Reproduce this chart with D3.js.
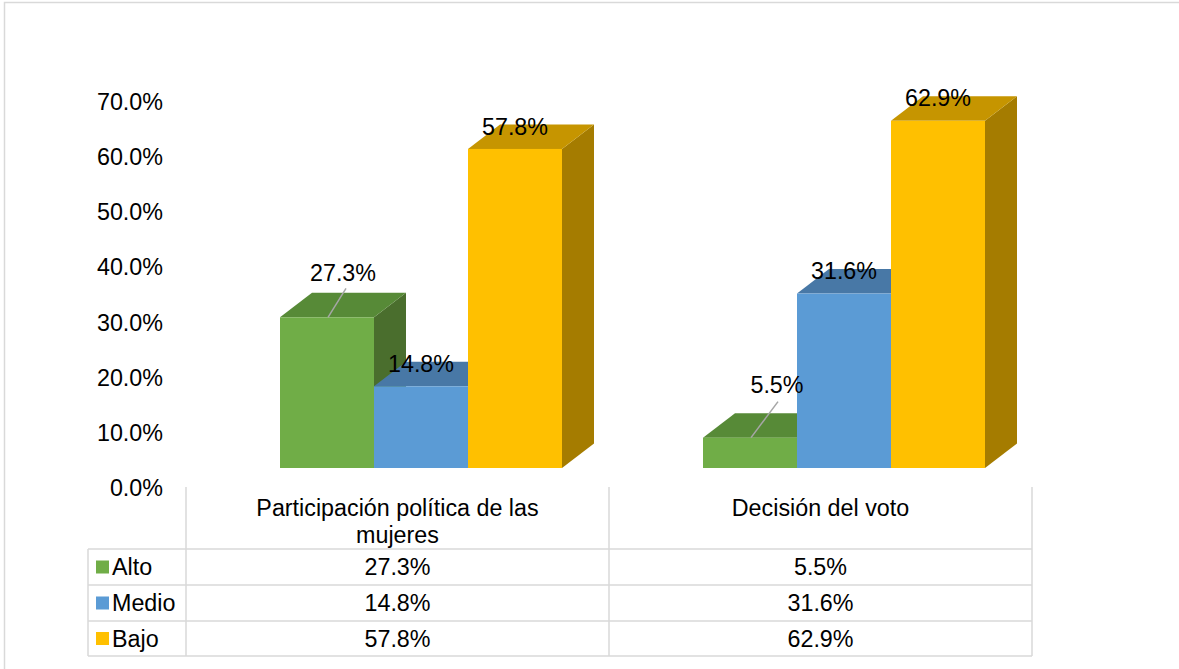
<!DOCTYPE html>
<html>
<head>
<meta charset="utf-8">
<script src="https://cdn.jsdelivr.net/npm/d3@7"></script>
<style>
body { margin: 0; background: #fff; }
text { font-family: "Liberation Sans", Arial, sans-serif; fill: #000; }
</style>
</head>
<body>
<svg id="chart" width="1179" height="669"></svg>
<script>
// data
var categories = ['Participación política de las mujeres', 'Decisión del voto'];
var categoryLines = [['Participación política de las', 'mujeres'], ['Decisión del voto']];
var seriesNames = ['Alto', 'Medio', 'Bajo'];
var alto = [27.3, 5.5];
var medio = [14.8, 31.6];
var bajo = [57.8, 62.9];
var yTicks = [0, 10, 20, 30, 40, 50, 60, 70];

var seriesValues = [alto, medio, bajo];
var front = ['#70AD47', '#5B9BD5', '#FFC000'];
var topC = ['#578A37', '#4878A6', '#C69500'];
var sideC = ['#4A6E2D', '#3F6A94', '#A57C00'];

var svg = d3.select('#chart');
var fmt = d => d.toFixed(1) + '%';

// outer frame
svg.append('rect').attr('x', 4.5).attr('y', 2.5).attr('width', 1200).attr('height', 700)
    .attr('fill', 'none').attr('stroke', '#d9d9d9').attr('stroke-width', 1.5);

var tableLeft = 88, plotLeft = 186, plotRight = 1032;
var depthX = 32, depthY = -24.5;

var x = d3.scaleBand().domain(categories).range([plotLeft, plotRight]);
var xs = d3.scaleBand().domain(seriesNames)
    .range([x.bandwidth() * 2 / 9, x.bandwidth() * 8 / 9]);
var y = d3.scaleLinear().domain([0, 70]).range([468, 81.6]);

// y axis labels
svg.append('g').selectAll('text').data(yTicks).enter().append('text')
    .attr('x', 163).attr('y', d => y(d) + 20).attr('dy', '0.35em')
    .attr('text-anchor', 'end').style('font-size', '23.3px')
    .text(d => d.toFixed(1) + '%');

// bars (left to right so the next front hides the side)
var bars = [];
categories.forEach(function(c, ci) {
    seriesNames.forEach(function(s, si) {
        bars.push({cat: c, ci: ci, s: s, si: si, v: seriesValues[si][ci]});
    });
});

var g = svg.append('g');
bars.forEach(function(d) {
    var x0 = x(d.cat) + xs(d.s), x1 = x0 + xs.bandwidth();
    var y0 = y(0), y1 = y(d.v);
    // side
    g.append('path')
        .attr('d', `M${x1},${y1}L${x1 + depthX},${y1 + depthY}L${x1 + depthX},${y0 + depthY}L${x1},${y0}Z`)
        .attr('fill', sideC[d.si]);
    // top
    g.append('path')
        .attr('d', `M${x0},${y1}L${x0 + depthX},${y1 + depthY}L${x1 + depthX},${y1 + depthY}L${x1},${y1}Z`)
        .attr('fill', topC[d.si]);
    // front
    g.append('rect').attr('x', x0).attr('y', y1)
        .attr('width', x1 - x0).attr('height', y0 - y1)
        .attr('fill', front[d.si]);
});

// data labels
var labels = svg.append('g');
bars.forEach(function(d) {
    var cx = x(d.cat) + xs(d.s) + xs.bandwidth() / 2;
    var ty = y(d.v) + depthY;
    var lx = cx, ly = ty;
    if (d.si == 0) {
        // moved labels with leader line
        lx = cx + (d.ci == 0 ? 16 : 27);
        ly = ty - (d.ci == 0 ? 22 : 30);
        labels.append('line')
            .attr('x1', cx + 1).attr('y1', y(d.v))
            .attr('x2', cx + (d.ci == 0 ? 19 : 28)).attr('y2', y(d.v) - (d.ci == 0 ? 29 : 36))
            .attr('stroke', '#a6a6a6').attr('stroke-width', 1.5);
    }
    labels.append('text')
        .attr('x', lx).attr('y', ly + 2).attr('dy', '0.35em')
        .attr('text-anchor', 'middle').style('font-size', '23.3px')
        .text(fmt(d.v));
});

// data table
var rowTops = [549, 585, 621, 656];
var table = svg.append('g').attr('stroke', '#d9d9d9').attr('stroke-width', 1.5);
rowTops.forEach(function(ry) {
    table.append('line').attr('x1', tableLeft).attr('x2', plotRight).attr('y1', ry).attr('y2', ry);
});
table.append('line').attr('x1', tableLeft).attr('x2', tableLeft).attr('y1', 549).attr('y2', 656);
[plotLeft, x(categories[1]), plotRight].forEach(function(vx) {
    table.append('line').attr('x1', vx).attr('x2', vx).attr('y1', 487).attr('y2', 656);
});

// header text
categoryLines.forEach(function(lines, ci) {
    var cx = x(categories[ci]) + x.bandwidth() / 2;
    lines.forEach(function(t, li) {
        svg.append('text').attr('x', cx).attr('y', 508 + li * 27).attr('dy', '0.35em')
            .attr('text-anchor', 'middle').style('font-size', '23.3px').text(t);
    });
});

// rows
seriesNames.forEach(function(s, si) {
    var cy = (rowTops[si] + rowTops[si + 1]) / 2;
    svg.append('rect').attr('x', 96).attr('y', cy - 6.5).attr('width', 13).attr('height', 13)
        .attr('fill', front[si]);
    svg.append('text').attr('x', 112).attr('y', cy).attr('dy', '0.35em')
        .style('font-size', '23.3px').text(s);
    categories.forEach(function(c, ci) {
        svg.append('text').attr('x', x(c) + x.bandwidth() / 2).attr('y', cy).attr('dy', '0.35em')
            .attr('text-anchor', 'middle').style('font-size', '23.3px')
            .text(fmt(seriesValues[si][ci]));
    });
});
</script>
</body>
</html>
